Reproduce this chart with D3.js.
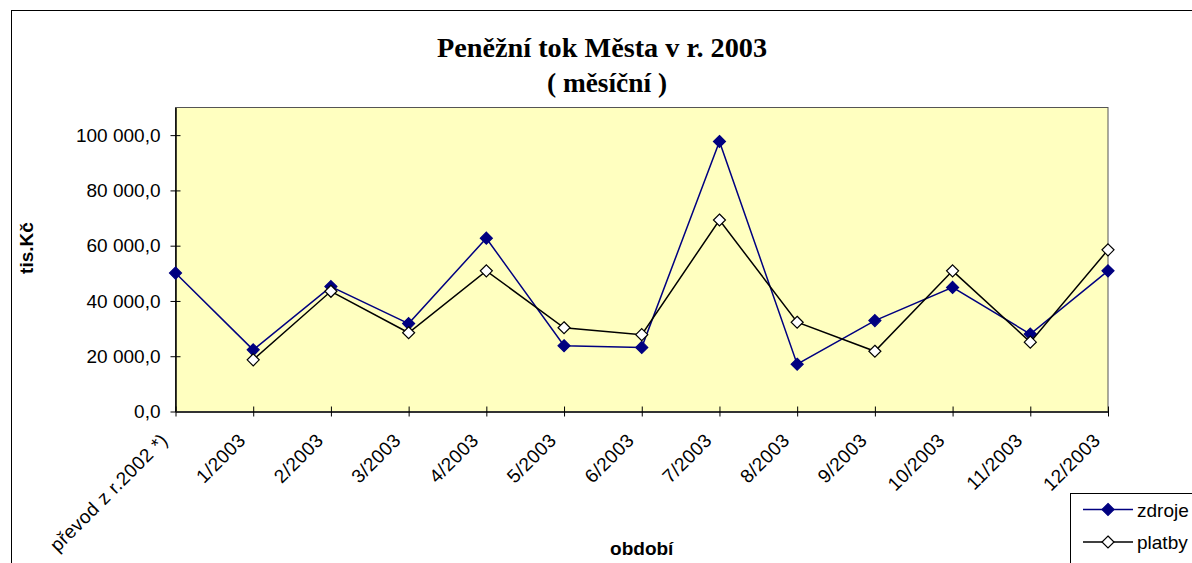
<!DOCTYPE html>
<html>
<head>
<meta charset="utf-8">
<script src="https://cdn.jsdelivr.net/npm/d3@7"></script>
<style>
  html, body { margin: 0; padding: 0; background: #fff; overflow: hidden; }
  text { font-family: "Liberation Sans", Arial, sans-serif; }
</style>
</head>
<body>
<div id="chart"></div>
<script>
// Data ----------------------------------------------
const categories = ["převod z r.2002 *)", "1/2003", "2/2003", "3/2003", "4/2003", "5/2003",
  "6/2003", "7/2003", "8/2003", "9/2003", "10/2003", "11/2003", "12/2003"];
const zdroje = [50100, 22300, 45200, 31800, 62700, 23800, 23200, 97700, 17100, 32900, 44900, 28000, 50900];
const platby = [null, 18700, 43500, 28500, 50900, 30300, 27800, 69300, 32300, 21800, 50900, 25100, 58500];
const yTicks = [0, 20000, 40000, 60000, 80000, 100000];
const seriesNames = ["zdroje", "platby"];

// Constants ----------------------------------------------
const width = 1192;
const height = 563;
const plot = {left: 175.5, right: 1108, top: 107.5, bottom: 411.5};
const plotFill = "#ffffc0";
const navy = "#000080";
const labelSize = 19;

// Scale functions ----------------------------------------------
const xScale = d3.scalePoint()
  .domain(categories)
  .range([plot.left, plot.right]);

const yScale = d3.scaleLinear()
  .domain([0, 110000])
  .range([plot.bottom, plot.top]);

const fmt = v => d3.format(",.1f")(v).replace(/,/g, " ").replace(".", ",");

// Functions ----------------------------------------------
function diamond(sel, x, y, fill, stroke) {
  sel.append("path")
    .attr("d", `M${x},${y - 6}L${x + 6},${y}L${x},${y + 6}L${x - 6},${y}Z`)
    .attr("fill", fill)
    .attr("stroke", stroke)
    .attr("stroke-width", 1.2);
}

function drawSeries(svg, values, color, markerFill) {
  const pts = categories.map((c, i) => ({c, v: values[i]}));
  const line = d3.line()
    .defined(d => d.v !== null)
    .x(d => xScale(d.c))
    .y(d => yScale(d.v));

  const g = svg.append("g");
  g.append("path")
    .datum(pts)
    .attr("d", line)
    .attr("fill", "none")
    .attr("stroke", color)
    .attr("stroke-width", 1.5);

  pts.filter(d => d.v !== null).forEach(d =>
    diamond(g, xScale(d.c), yScale(d.v), markerFill, color)
  );
}

// Draw ----------------------------------------------
const svg = d3.select("#chart")
  .append("svg")
  .attr("width", width)
  .attr("height", height);

// chart border
svg.append("rect")
  .attr("x", 11.5).attr("y", 10.5)
  .attr("width", 1200).attr("height", 600)
  .attr("fill", "#fff")
  .attr("stroke", "#000")
  .attr("stroke-width", 1);

// plot area
svg.append("rect")
  .attr("x", plot.left).attr("y", plot.top)
  .attr("width", plot.right - plot.left)
  .attr("height", plot.bottom - plot.top)
  .attr("fill", plotFill)
  .attr("stroke", "#555")
  .attr("stroke-width", 1);

// y axis
const yAxis = svg.append("g")
  .attr("transform", `translate(${plot.left},0)`)
  .call(d3.axisLeft(yScale).tickValues(yTicks).tickFormat(fmt).tickSizeInner(5).tickSizeOuter(0).tickPadding(10));
yAxis.selectAll(".tick line").attr("x2", 5).attr("x1", -5);
yAxis.select(".domain").attr("stroke-width", 1.5);
yAxis.selectAll("text").attr("font-size", labelSize).attr("fill", "#000")
  .style("font-family", "Liberation Sans, Arial, sans-serif");

// x axis
const xAxis = svg.append("g")
  .attr("transform", `translate(0,${plot.bottom})`)
  .call(d3.axisBottom(xScale).tickSizeOuter(0));
xAxis.selectAll(".tick line").attr("y1", -5).attr("y2", 5);
xAxis.select(".domain").attr("stroke-width", 2).attr("stroke", "#333");
xAxis.selectAll(".tick text")
  .attr("font-size", labelSize)
  .attr("fill", "#000")
  .style("font-family", "Liberation Sans, Arial, sans-serif")
  .style("letter-spacing", "0.4px")
  .attr("text-anchor", "end")
  .attr("dy", 0)
  .attr("y", 0)
  .attr("transform", "translate(-7,30) rotate(-45)");

// series
drawSeries(svg, zdroje, navy, navy);
drawSeries(svg, platby, "#000", "#fff");

// titles
svg.append("text")
  .attr("x", 602).attr("y", 57)
  .attr("text-anchor", "middle")
  .style("font-family", "Liberation Serif, 'Times New Roman', serif")
  .attr("font-weight", "bold")
  .attr("font-size", 28)
  .attr("textLength", 330)
  .attr("lengthAdjust", "spacingAndGlyphs")
  .text("Peněžní tok Města v r. 2003");

svg.append("text")
  .attr("x", 607).attr("y", 92)
  .attr("text-anchor", "middle")
  .style("font-family", "Liberation Serif, 'Times New Roman', serif")
  .attr("font-weight", "bold")
  .attr("font-size", 28)
  .attr("textLength", 120)
  .attr("lengthAdjust", "spacingAndGlyphs")
  .text("( měsíční )");

svg.append("text")
  .attr("transform", "translate(33,248) rotate(-90)")
  .attr("text-anchor", "middle")
  .attr("font-weight", "bold")
  .attr("font-size", labelSize)
  .text("tis.Kč");

svg.append("text")
  .attr("x", (plot.left + plot.right) / 2).attr("y", 555)
  .attr("text-anchor", "middle")
  .attr("font-weight", "bold")
  .attr("font-size", labelSize)
  .text("období");

// legend
const legend = svg.append("g").attr("transform", "translate(1070,493)");
legend.append("rect")
  .attr("x", 0.5).attr("y", 0.5)
  .attr("width", 140).attr("height", 75)
  .attr("fill", "#fff")
  .attr("stroke", "#000");

seriesNames.forEach((name, i) => {
  const y = 16.5 + i * 32.5;
  const color = i === 0 ? navy : "#000";
  legend.append("line")
    .attr("x1", 13).attr("x2", 63)
    .attr("y1", y).attr("y2", y)
    .attr("stroke", color)
    .attr("stroke-width", 1.5);
  diamond(legend, 38, y, i === 0 ? navy : "#fff", color);
  legend.append("text")
    .attr("x", 67).attr("y", y + 7)
    .attr("font-size", labelSize)
    .text(name);
});
</script>
</body>
</html>
